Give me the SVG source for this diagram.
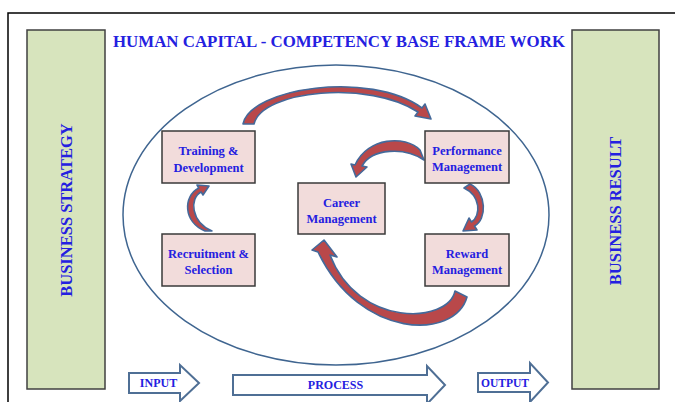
<svg xmlns="http://www.w3.org/2000/svg" width="675" height="402" viewBox="0 0 675 402">
  <style>
    .lbl { font-family: "Liberation Serif", "Times New Roman", serif; font-weight: bold; fill: #2420e0; text-anchor: middle; }
    .box { fill: #f2dcdb; stroke: #3a3a3a; stroke-width: 1.5; }
    .side { fill: #d7e4bd; stroke: #404040; stroke-width: 1.5; }
    .curve { fill: #b9484a; stroke: #44699a; stroke-width: 1.6; stroke-linejoin: round; }
    .flow { fill: #ffffff; stroke: #4f6f95; stroke-width: 2; stroke-linejoin: miter; }
  </style>

  <rect width="675" height="402" fill="#ffffff"/>

  <!-- page frame -->
  <path d="M8,402 V13 H675" fill="none" stroke="#000000" stroke-width="1.5"/>

  <!-- title -->
  <text class="lbl" x="339" y="47" font-size="17" textLength="452" lengthAdjust="spacingAndGlyphs">HUMAN CAPITAL - COMPETENCY BASE FRAME WORK</text>

  <!-- side columns -->
  <g id="business-strategy">
    <rect class="side" x="27" y="30" width="78" height="359"/>
    <text class="lbl" x="71.5" y="210" font-size="16.5" transform="rotate(-90 71.5 210)">BUSINESS STRATEGY</text>
  </g>
  <g id="business-result">
    <rect class="side" x="572" y="30" width="87" height="359"/>
    <text class="lbl" x="621" y="211" font-size="16.5" transform="rotate(-90 621 211)">BUSINESS RESULT</text>
  </g>

  <!-- enclosing ellipse -->
  <ellipse id="frame-ellipse" cx="336" cy="215" rx="213" ry="150" fill="none" stroke="#3f6590" stroke-width="1.5"/>

  <!-- cycle arrows -->
  <g id="connectors">
    <path class="curve" d="M243,124 C250,88 370,70 422,108 L425,104 L431,119 L415,116 L418,112 C370,80 262,90 254,124 Z"/>
    <path class="curve" d="M420,150 C405,135 368,137 355,165 L351,164 L356,177 L367,167 L362,166 C372,148 405,147 424,160 Z"/>
    <path class="curve" d="M470,184 C487,192 487,220 474.5,226 L477,230 L463,231 L469,218 L471.5,222 C481,216 481,196 464,188 Z"/>
    <path class="curve" d="M205,231 C183,222 183,196 198.8,188 L197,185 L209,186 L203,195 L201.2,192 C189,198 191,222 212,231 Z"/>
    <path class="curve" d="M455,291 L467,297 C455,340 360,340 318,252 L312,250 L324,240 L337,257 L330,255 C358,328 448,324 455,291 Z"/>
  </g>

  <!-- process boxes -->
  <g id="training-development">
    <rect class="box" x="162" y="131" width="93" height="52"/>
    <text class="lbl" x="208.5" y="155" font-size="12.5">Training &amp;</text>
    <text class="lbl" x="208.5" y="172" font-size="12.5">Development</text>
  </g>
  <g id="performance-management">
    <rect class="box" x="425" y="131" width="84" height="52"/>
    <text class="lbl" x="467" y="155" font-size="12.5">Performance</text>
    <text class="lbl" x="467" y="171" font-size="12.5">Management</text>
  </g>
  <g id="career-management">
    <rect class="box" x="298" y="183" width="87" height="51"/>
    <text class="lbl" x="341.5" y="207" font-size="12.5">Career</text>
    <text class="lbl" x="341.5" y="223" font-size="12.5">Management</text>
  </g>
  <g id="recruitment-selection">
    <rect class="box" x="162" y="234" width="93" height="52"/>
    <text class="lbl" x="208.5" y="258" font-size="12.5">Recruitment &amp;</text>
    <text class="lbl" x="208.5" y="274" font-size="12.5">Selection</text>
  </g>
  <g id="reward-management">
    <rect class="box" x="425" y="234" width="84" height="52"/>
    <text class="lbl" x="467" y="258" font-size="12.5">Reward</text>
    <text class="lbl" x="467" y="274" font-size="12.5">Management</text>
  </g>

  <!-- input / process / output flow -->
  <g id="input">
    <polygon class="flow" points="129,373 180,373 180,365 199,383 180,401 180,393 129,393"/>
    <text class="lbl" x="158.5" y="387" font-size="12">INPUT</text>
  </g>
  <g id="process">
    <polygon class="flow" points="233,375 427,375 427,366 445,385 427,404 427,395 233,395"/>
    <text class="lbl" x="335.5" y="389" font-size="12">PROCESS</text>
  </g>
  <g id="output">
    <polygon class="flow" points="478,373 530,373 530,363 548,382.5 530,402 530,392 478,392"/>
    <text class="lbl" x="505" y="387" font-size="11.5">OUTPUT</text>
  </g>
</svg>
